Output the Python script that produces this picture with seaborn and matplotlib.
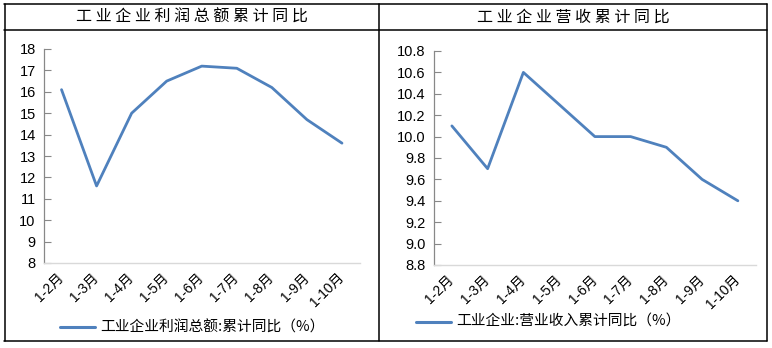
import matplotlib
matplotlib.use("Agg")
import matplotlib.pyplot as plt
from matplotlib.lines import Line2D
import seaborn as sns
import pandas as pd

sns.set_theme(style="white")
plt.rcParams["font.family"] = ["Noto Sans CJK SC", "DejaVu Sans"]
TICK_FONT = ["Liberation Sans", "Noto Sans CJK SC"]

months = ["1-2月", "1-3月", "1-4月", "1-5月", "1-6月", "1-7月", "1-8月", "1-9月", "1-10月"]
profit_yoy = [16.1, 11.6, 15.0, 16.5, 17.2, 17.1, 16.2, 14.7, 13.6]
revenue_yoy = [10.1, 9.7, 10.6, 10.3, 10.0, 10.0, 9.9, 9.6, 9.4]

left_title = "工业企业利润总额累计同比"
right_title = "工业企业营收累计同比"
profit_label = "工业企业利润总额:累计同比（%）"
revenue_label = "工业企业:营业收入累计同比（%）"

LINE = "#4F81BD"
W, H = 772, 348
fig = plt.figure(figsize=(W / 100, H / 100), dpi=100)


def fx(px):
    return px / W


def fy(py):
    return 1 - py / H


# table frame
frame_kw = dict(color="black", lw=1.1, transform=fig.transFigure)
fig.add_artist(Line2D([fx(4), fx(767)], [fy(4), fy(4)], **frame_kw))
fig.add_artist(Line2D([fx(4), fx(767)], [fy(30), fy(30)], **frame_kw))
fig.add_artist(Line2D([fx(4), fx(767)], [fy(341), fy(341)], **frame_kw))
fig.add_artist(Line2D([fx(4.5), fx(4.5)], [fy(4), fy(341)], **frame_kw))
fig.add_artist(Line2D([fx(379), fx(379)], [fy(4), fy(341)], **frame_kw))
fig.add_artist(Line2D([fx(766.5), fx(766.5)], [fy(4), fy(341)], **frame_kw))


def spaced(s):
    return " ".join(s)


fig.text(fx(191.5), fy(17), spaced(left_title), ha="center", va="center", fontsize=11.5, color="black")
fig.text(fx(573), fy(17), spaced(right_title), ha="center", va="center", fontsize=11.5, color="black")


def panel(rect, values, ylim, yticks, fmt, label, legend_xy):
    ax = fig.add_axes(rect)
    df = pd.DataFrame({"month": months, "value": values})
    sns.lineplot(data=df, x="month", y="value", ax=ax, color=LINE, linewidth=2.0, sort=False)
    ax.set_xlim(-0.5, len(months) - 0.5)
    ax.set_ylim(*ylim)
    ax.set_yticks(yticks)
    ax.set_yticklabels([fmt(v) for v in yticks], fontsize=10.5, color="black", family=TICK_FONT)
    ax.set_xticks(range(len(months)))
    ax.set_xticklabels(months, fontsize=10, color="black", rotation=45, family=TICK_FONT,
                       ha="right", va="center", rotation_mode="anchor")
    ax.tick_params(axis="x", length=0, pad=9)
    ax.tick_params(axis="y", direction="in", length=5, width=0.8, color="#888888", pad=6, left=True)
    ax.set_xlabel("")
    ax.set_ylabel("")
    for side in ("top", "right"):
        ax.spines[side].set_visible(False)
    ax.spines["left"].set_color("#888888")
    ax.spines["left"].set_linewidth(0.9)
    ax.spines["bottom"].set_color("#d9d9d9")
    ax.spines["bottom"].set_linewidth(1.0)
    ax.patch.set_alpha(0)
    lx, ly = legend_xy
    fig.add_artist(Line2D([fx(lx), fx(lx + 35)], [fy(ly), fy(ly)], color=LINE, lw=2.2,
                          transform=fig.transFigure))
    fig.text(fx(lx + 40), fy(ly), label, ha="left", va="center", fontsize=10.6, color="black")
    return ax


panel([fx(44), fy(263), fx(315.5), 214 / H], profit_yoy, (8, 18), list(range(8, 19)),
      lambda v: f"{v:d}", profit_label, (60, 327))
panel([fx(434), fy(265), fx(321.75), 214 / H], revenue_yoy, (8.8, 10.8),
      [8.8, 9.0, 9.2, 9.4, 9.6, 9.8, 10.0, 10.2, 10.4, 10.6, 10.8],
      lambda v: f"{v:.1f}", revenue_label, (416, 322))

fig.savefig("out.png", dpi=100)
